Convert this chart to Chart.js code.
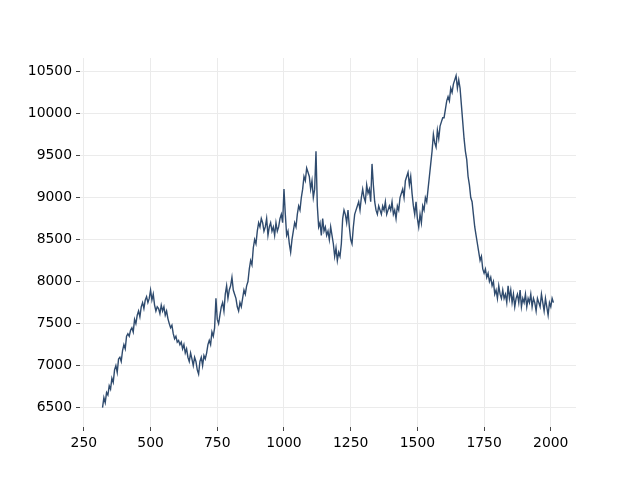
<!DOCTYPE html>
<html>
<head>
<meta charset="utf-8">
<script src="https://cdn.jsdelivr.net/npm/chart.js@4"></script>
<style>
  html, body { margin: 0; padding: 0; background: #fff; }
  #c { display: block; }
</style>
</head>
<body>
<canvas id="c" width="640" height="480"></canvas>
<script>
// x runs from 320 to 2010 in steps of 5
const xStart = 320;
const xStep = 5;
const values = [
  6500, 6620, 6560, 6680, 6650, 6760, 6720, 6850, 6800, 6950, 7000, 6920, 7080, 7100, 7050, 7180, 7250, 7200, 7350, 7380,
  7350, 7420, 7450, 7400, 7550, 7500, 7600, 7650, 7580, 7700, 7750, 7680, 7780, 7820, 7750, 7800, 7900, 7780, 7850, 7720,
  7650, 7700, 7680, 7620, 7720, 7650, 7700, 7600, 7650, 7560, 7500, 7450, 7480, 7380, 7320, 7350, 7280, 7300, 7250, 7280,
  7200, 7250, 7150, 7200, 7100, 7050, 7150, 7080, 7000, 7100, 7050, 6950, 6900, 7050, 7100, 7000, 7120, 7080, 7150, 7250,
  7300, 7250, 7400, 7350, 7450, 7800, 7550, 7500, 7600, 7700, 7750, 7650, 7850, 7950, 7800, 7900, 7950, 8050, 7900, 7850,
  7800, 7700, 7650, 7750, 7700, 7800, 7900, 7850, 7950, 8000, 8150, 8250, 8200, 8400, 8500, 8450, 8600, 8700, 8650, 8750,
  8700, 8600, 8650, 8750, 8550, 8650, 8700, 8600, 8650, 8550, 8700, 8600, 8650, 8750, 8800, 8700, 9100, 8800, 8550, 8600,
  8450, 8350, 8500, 8600, 8700, 8650, 8800, 8900, 8850, 9000, 9100, 9250, 9200, 9350, 9300, 9250, 9100, 9200, 9000, 9100,
  9550, 8900, 8650, 8700, 8550, 8750, 8600, 8650, 8550, 8600, 8500, 8650, 8550, 8450, 8300, 8400, 8250, 8350, 8300, 8450,
  8750, 8850, 8800, 8700, 8850, 8650, 8500, 8450, 8650, 8800, 8850, 8900, 8950, 8850, 9000, 9100, 9000, 8950, 9150, 9050,
  9100, 8950, 9400, 9150, 8950, 8850, 8800, 8900, 8850, 8800, 8900, 8850, 8950, 8800, 8850, 8900, 8850, 8950, 8800, 8850,
  8750, 8900, 8850, 9000, 9050, 9100, 9000, 9200, 9250, 9300, 9150, 9250, 9050, 8900, 8800, 8950, 8750, 8650, 8800, 8700,
  8900, 8850, 9000, 8950, 9100, 9250, 9400, 9550, 9750, 9650, 9600, 9800, 9700, 9850, 9900, 9950, 9950, 10050, 10150, 10200,
  10150, 10300, 10250, 10350, 10400, 10450, 10300, 10400, 10300, 10100, 9900, 9700, 9550, 9450, 9250, 9150, 9000, 8950, 8800, 8650,
  8550, 8450, 8350, 8250, 8300, 8150, 8100, 8150, 8050, 8100, 8000, 8050, 7950, 8000, 7850, 7900, 7800, 7950, 7850, 7800,
  7900, 7800, 7850, 7750, 7950, 7800, 7900, 7750, 7850, 7700, 7800, 7850, 7750, 7900, 7700, 7800, 7750, 7850, 7700, 7800,
  7750, 7850, 7700, 7800, 7750, 7650, 7800, 7750, 7700, 7850, 7750, 7650, 7800, 7700, 7600, 7750, 7700, 7800, 7750
];
const xTicks = [250, 500, 750, 1000, 1250, 1500, 1750, 2000];
const yTicks = [6500, 7000, 7500, 8000, 8500, 9000, 9500, 10000, 10500];

const points = values.map((v, i) => ({ x: xStart + i * xStep, y: v }));

const font = { family: "DejaVu Sans", size: 13.9 };
const gridStyle = {
  color: "#ebebeb",
  lineWidth: 1,
  drawTicks: true,
  tickLength: 4,
  tickColor: "#444",
  tickWidth: 1
};

new Chart(document.getElementById("c"), {
  type: "line",
  data: {
    datasets: [
      {
        data: points,
        borderColor: "#2f4b6e",
        borderWidth: 1.4,
        pointRadius: 0,
        tension: 0,
        fill: false
      }
    ]
  },
  options: {
    responsive: false,
    animation: false,
    layout: { padding: { left: 0, top: 58, right: 64, bottom: 0 } },
    plugins: { legend: { display: false }, tooltip: { enabled: false } },
    scales: {
      x: {
        type: "linear",
        min: 235.5,
        max: 2094.5,
        border: { display: false },
        grid: gridStyle,
        ticks: { font: font, color: "#000", padding: 4, maxRotation: 0, callback: (v) => String(v) },
        afterBuildTicks: (s) => { s.ticks = xTicks.map((v) => ({ value: v })); },
        afterFit: (s) => { s.height = 53; }
      },
      y: {
        type: "linear",
        min: 6270,
        max: 10660,
        border: { display: false },
        grid: gridStyle,
        ticks: { font: font, color: "#000", padding: 4, callback: (v) => String(v) },
        afterBuildTicks: (s) => { s.ticks = yTicks.map((v) => ({ value: v })); },
        afterFit: (s) => { s.width = 80; }
      }
    }
  }
});
</script>
</body>
</html>
